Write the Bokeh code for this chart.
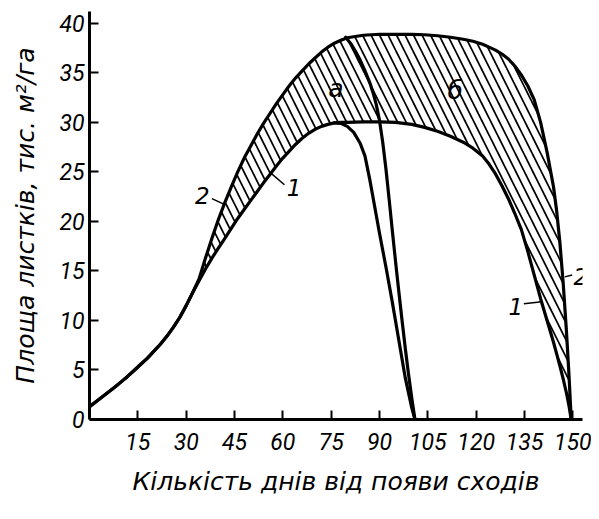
from bokeh.plotting import figure
from bokeh.embed import file_html
from bokeh.resources import INLINE
from bokeh.models import Label, FixedTicker

# ---- data (days since emergence, leaf area, thousand m2/ha) ----
days = [0, 2, 4, 6, 8, 10, 12, 14, 16, 18, 20, 22, 24, 26, 28, 30, 32, 34, 36, 38,
        40, 42, 44, 46, 48, 50, 52, 54, 56, 58, 60, 62, 64, 66, 68, 70, 72, 74,
        76, 78, 80, 85, 90, 95, 100, 104, 108, 112, 116, 119, 122, 124, 126, 128,
        130, 132, 134, 136, 138, 140, 142, 144, 145, 146, 147, 148, 148.8, 149.5]
# curve 1 (lower)
curve1 = [1.3, 1.8, 2.3, 2.8, 3.3, 3.85, 4.4, 5.0, 5.6, 6.2, 6.9, 7.6, 8.4, 9.3,
          10.3, 11.5, 12.8, 14.0, 15.2, 16.3, 17.3, 18.3, 19.3, 20.3, 21.2, 22.1,
          23.0, 23.9, 24.75, 25.6, 26.4, 27.1, 27.8, 28.4, 28.9, 29.3, 29.6, 29.8,
          29.95, 30.0, 30.0, 30.05, 30.05, 30.0, 29.8, 29.5, 29.1, 28.6, 28.0,
          27.4, 26.6, 25.8, 24.8, 23.6, 22.3, 20.8, 19.2, 17.0, 14.6, 12.2, 10.0,
          7.8, 6.6, 5.4, 4.1, 2.7, 1.4, 0.0]
# curve 2 (upper)
curve2 = [1.3, 1.8, 2.3, 2.8, 3.3, 3.85, 4.4, 5.0, 5.6, 6.2, 6.9, 7.6, 8.4, 9.3,
          10.3, 11.5, 12.8, 14.2, 16.3, 18.3, 20.2, 21.9, 23.5, 25.0, 26.4, 27.6,
          28.8, 29.9, 30.9, 31.9, 32.8, 33.7, 34.5, 35.2, 35.9, 36.5, 37.1, 37.6,
          38.0, 38.3, 38.55, 38.8, 38.9, 38.9, 38.9, 38.85, 38.75, 38.6, 38.4,
          38.2, 37.9, 37.6, 37.3, 36.9, 36.4, 35.7, 34.8, 33.7, 32.3, 30.0, 27.0,
          23.5, 21.0, 17.8, 13.8, 9.0, 4.5, 0.0]
# curve a (early loss of leaves)
curve_a_days = [76, 78, 80, 82, 84, 85.5, 87, 88.5, 90, 92, 94, 96, 98, 100, 101]
curve_a = [29.95, 29.9, 29.6, 29.0, 27.9, 26.6, 24.2, 21.5, 18.8, 15.4, 11.8,
           8.0, 4.2, 1.2, 0.0]
# curve b
curve_b_days = [79.5, 81, 82.5, 84, 85.5, 87, 88, 89, 90, 91, 92, 93, 94, 95, 96,
                97, 98, 99, 100, 101]
curve_b = [38.6, 38.0, 37.2, 36.3, 35.2, 34.0, 33.0, 31.8, 30.2, 28.0, 25.3, 22.2,
           19.0, 15.9, 12.9, 10.0, 7.2, 4.6, 2.2, 0.0]
hatch_start = 16  # index from which the two curves separate

x_ticks = [15, 30, 45, 60, 75, 90, 105, 120, 135, 150]
y_ticks = [0, 5, 10, 15, 20, 25, 30, 35, 40]

# annotation leader lines (x0, y0, x1, y1)
leaders = [(38.0, 22.3, 42.0, 21.7), (56.2, 24.9, 60.5, 23.7),
           (134.8, 11.7, 140.4, 11.9), (147.5, 14.4, 149.8, 14.6)]

FONT = "DejaVu Sans"
TICKFONT = "Roboto"

p = figure(width=591, height=503, x_range=(0, 153), y_range=(0, 41.2),
           output_backend="svg", toolbar_location=None,
           min_border_left=89, min_border_right=9, min_border_top=11,
           min_border_bottom=84)
p.outline_line_color = None
p.grid.visible = False
p.background_fill_color = "white"
p.border_fill_color = "white"

# hatched area between curves
p.varea(x=days[hatch_start:], y1=curve1[hatch_start:], y2=curve2[hatch_start:],
        fill_alpha=0, hatch_pattern="\\", hatch_color="black",
        hatch_weight=1.7, hatch_scale=17)

lw = 3.2
for xs, ys in ((days, curve1), (days, curve2), (curve_a_days, curve_a),
               (curve_b_days, curve_b)):
    p.line(xs, ys, line_color="black", line_width=lw, line_join="round",
           line_cap="round")

for (x0, y0, x1, y1) in leaders:
    p.line([x0, x1], [y0, y1], line_color="black", line_width=1.5)

def lab(x, y, t, size="23px", align="center"):
    p.add_layout(Label(x=x, y=y, text=t, text_font=FONT, text_font_style="italic",
                       text_font_size=size, text_color="black", text_align=align,
                       text_baseline="middle"))

lab(76.5, 33.4, "а", "25px")
lab(113.5, 33.2, "б", "25px")
lab(35.0, 22.6, "2")
lab(63.5, 23.4, "1")
lab(132.3, 11.4, "1")
lab(150.2, 14.4, "2", align="left")

# axes
for ax in (p.xaxis, p.yaxis):
    ax.axis_line_width = 3
    ax.axis_line_color = "black"
    ax.major_tick_in = 9
    ax.major_tick_out = 0
    ax.major_tick_line_width = 2
    ax.major_tick_line_color = "black"
    ax.minor_tick_line_color = None
    ax.major_label_text_font = TICKFONT
    ax.major_label_text_font_style = "italic"
    ax.major_label_text_font_size = "23px"
    ax.major_label_text_color = "black"
    ax.axis_label_text_font = FONT
    ax.axis_label_text_font_style = "italic"
    ax.axis_label_text_font_size = "25px"
    ax.axis_label_text_color = "black"

p.xaxis.ticker = FixedTicker(ticks=x_ticks)
p.yaxis.ticker = FixedTicker(ticks=y_ticks)
p.xaxis.major_label_standoff = 13
p.yaxis.major_label_standoff = 5
p.xaxis.axis_label = "Кількість днів від появи сходів"
p.yaxis.axis_label = "Площа листків, тис. м²/га"
p.xaxis.axis_label_standoff = 14
p.yaxis.axis_label_standoff = 16

open("out.html", "w").write(file_html(p, INLINE))
